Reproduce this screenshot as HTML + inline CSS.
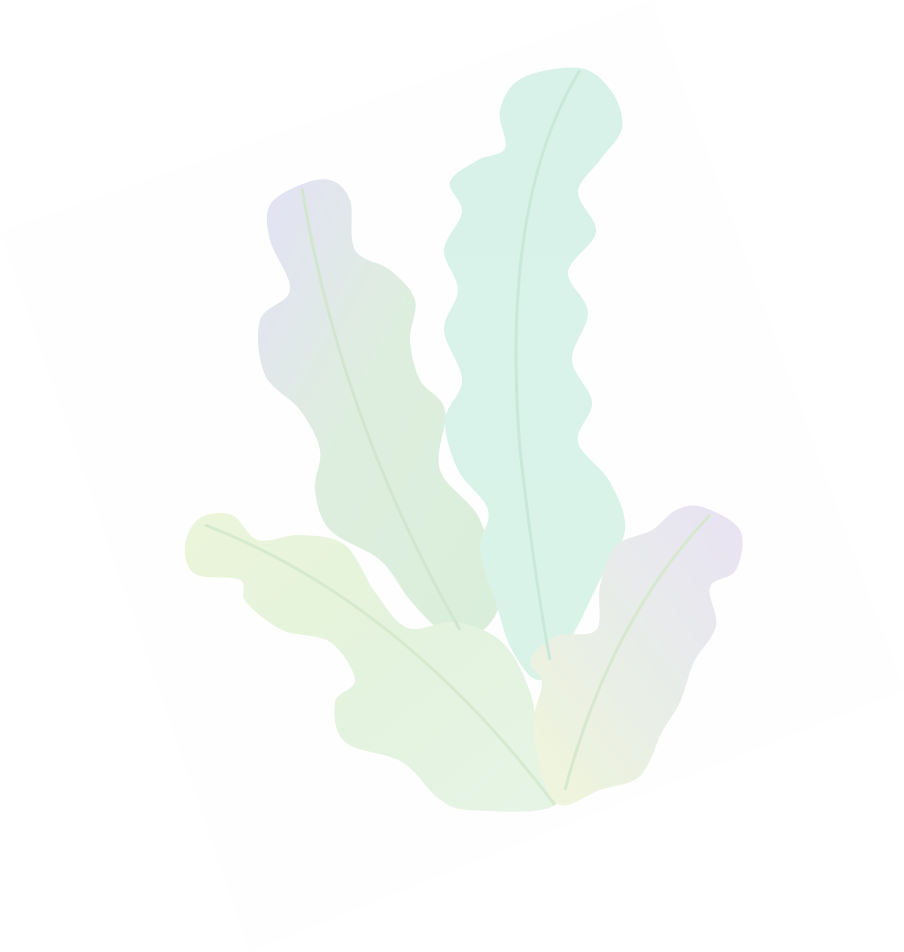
<!DOCTYPE html>
<html><head><meta charset="utf-8"><style>
html,body{margin:0;padding:0;background:#fff;width:904px;height:952px;overflow:hidden}
svg{display:block}
</style></head><body>
<svg width="904" height="952" viewBox="0 0 904 952">
<defs>
<linearGradient id="g1" x1="0" y1="0" x2="1" y2="1"><stop offset="0" stop-color="#e4e1f6"/><stop offset="0.45" stop-color="#deeede"/><stop offset="1" stop-color="#daeedb"/></linearGradient>
<linearGradient id="g2" x1="0" y1="0" x2="0" y2="1"><stop offset="0" stop-color="#d8f2ea"/><stop offset="1" stop-color="#daf3e9"/></linearGradient>
<linearGradient id="g3" x1="0" y1="0" x2="1" y2="1"><stop offset="0" stop-color="#ebf5d9"/><stop offset="0.5" stop-color="#e4f3de"/><stop offset="1" stop-color="#e6f4e6"/></linearGradient>
<linearGradient id="g4" x1="0" y1="1" x2="1" y2="0"><stop offset="0" stop-color="#f0f6da"/><stop offset="0.5" stop-color="#e8ede8"/><stop offset="1" stop-color="#e8e2f4"/></linearGradient>
</defs>
<polygon points="0,232 652,0 904,690 250,952" fill="#fefefe"/>
<path id="leaf1" fill="url(#g1)"/>
<path id="leaf2" fill="url(#g2)"/>
<path id="leaf3" fill="url(#g3)"/>
<path id="leaf4" fill="url(#g4)"/>
<path d="M302,188 Q340,420 460,630" stroke="#d2e6cf" stroke-width="3" fill="none"/>
<path d="M580,70 Q500,200 520,450 Q535,580 550,660" stroke="#c9e8da" stroke-width="3" fill="none"/>
<path d="M205,525 Q400,600 555,805" stroke="#d6eace" stroke-width="3" fill="none"/>
<path d="M710,515 Q610,620 565,790" stroke="#d6e8ce" stroke-width="3" fill="none"/>
</svg>
<script>
function smooth(p){var n=p.length,d="M"+p[0][0]+","+p[0][1];
for(var i=0;i<n;i++){var p0=p[(i-1+n)%n],p1=p[i],p2=p[(i+1)%n],p3=p[(i+2)%n];
d+=" C"+(p1[0]+(p2[0]-p0[0])/6)+","+(p1[1]+(p2[1]-p0[1])/6)+" "+(p2[0]-(p3[0]-p1[0])/6)+","+(p2[1]-(p3[1]-p1[1])/6)+" "+p2[0]+","+p2[1];}
return d+"Z";}
var L1=[[300,185],[330,180],[350,200],[355,250],[390,270],[415,300],[410,340],[420,380],[445,410],[440,470],[480,520],[500,600],[470,640],[440,630],[410,600],[380,560],[330,530],[315,490],[320,450],[300,410],[265,375],[260,320],[290,290],[270,240],[270,205]];
var L2=[[580,68],[612,92],[622,128],[600,160],[578,192],[596,232],[568,272],[588,312],[572,360],[592,402],[578,442],[610,482],[625,530],[600,580],[570,640],[540,680],[512,650],[495,600],[480,550],[488,510],[458,470],[445,420],[462,380],[444,330],[458,290],[444,250],[462,212],[450,182],[478,160],[505,148],[500,110],[522,78]];
var L3=[[200,518],[232,515],[258,540],[300,535],[345,545],[375,592],[408,628],[455,622],[502,642],[530,692],[540,750],[555,805],[470,810],[438,798],[402,762],[345,742],[335,702],[355,680],[330,642],[282,630],[246,602],[240,580],[195,574],[185,545]];
var L4=[[702,507],[740,530],[736,570],[710,587],[716,626],[694,662],[680,702],[662,732],[640,776],[600,790],[560,805],[540,770],[534,720],[542,682],[530,660],[556,636],[596,630],[600,586],[616,546],[652,530],[676,510]];
document.getElementById('leaf1').setAttribute('d',smooth(L1));
document.getElementById('leaf2').setAttribute('d',smooth(L2));
document.getElementById('leaf3').setAttribute('d',smooth(L3));
document.getElementById('leaf4').setAttribute('d',smooth(L4));
</script>
</body></html>
